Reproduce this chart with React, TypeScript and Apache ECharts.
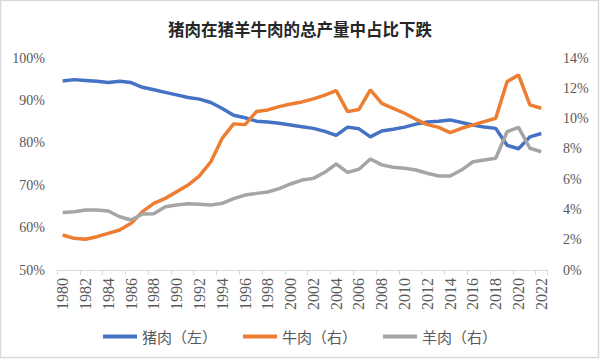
import React, { useEffect, useRef } from "react";
import * as echarts from "echarts";

const years: string[] = [
  "1980","1981","1982","1983","1984","1985","1986","1987","1988","1989",
  "1990","1991","1992","1993","1994","1995","1996","1997","1998","1999",
  "2000","2001","2002","2003","2004","2005","2006","2007","2008","2009",
  "2010","2011","2012","2013","2014","2015","2016","2017","2018","2019",
  "2020","2021","2022",
];

// 猪肉（左） share, %
const pork: number[] = [
  94.6, 94.9, 94.7, 94.5, 94.2, 94.5, 94.2, 93.1, 92.5, 91.9,
  91.3, 90.7, 90.3, 89.5, 88.1, 86.5, 85.9, 85.1, 84.9, 84.6,
  84.2, 83.8, 83.4, 82.7, 81.75, 83.7, 83.3, 81.4, 82.8, 83.2,
  83.7, 84.4, 84.9, 85.1, 85.4, 84.8, 84.2, 83.7, 83.4, 79.4,
  78.6, 81.4, 82.2,
];

// 牛肉（右） share, %
const beef: number[] = [
  2.31, 2.09, 2.03, 2.2, 2.42, 2.64, 3.08, 3.85, 4.4, 4.73,
  5.17, 5.61, 6.21, 7.15, 8.7, 9.65, 9.6, 10.46, 10.57, 10.79,
  10.96, 11.1, 11.3, 11.55, 11.84, 10.46, 10.6, 11.89, 11.0, 10.68,
  10.35, 9.95, 9.6, 9.42, 9.07, 9.36, 9.58, 9.8, 10.02, 12.44,
  12.88, 10.9, 10.68,
];

// 羊肉（右） share, %
const mutton: number[] = [
  3.79, 3.85, 3.96, 3.96, 3.9, 3.52, 3.3, 3.7, 3.72, 4.18,
  4.29, 4.38, 4.34, 4.29, 4.4, 4.71, 4.95, 5.06, 5.15, 5.37,
  5.68, 5.94, 6.05, 6.45, 7.0, 6.45, 6.65, 7.33, 6.94, 6.78,
  6.72, 6.6, 6.39, 6.21, 6.21, 6.6, 7.15, 7.27, 7.38, 9.13,
  9.42, 8.04, 7.81,
];

const seriesNames: string[] = ["猪肉（左）", "牛肉（右）", "羊肉（右）"];
const titleText = "猪肉在猪羊牛肉的总产量中占比下跌";

export default function App() {
  const ref = useRef<HTMLDivElement>(null);

  useEffect(() => {
    if (!ref.current) return;
    const chart = echarts.init(ref.current, undefined, { renderer: "svg" });
    const serif = "'Liberation Serif', 'Noto Sans CJK SC', serif";
    const labelColor = "#595959";
    const lineColor = "#d9d9d9";

    chart.setOption({
      animation: false,
      backgroundColor: "#ffffff",
      title: {
        text: titleText,
        left: "center",
        top: 16,
        textStyle: {
          fontFamily: "'Noto Sans CJK SC', sans-serif",
          fontSize: 16.5,
          fontWeight: "bold",
          color: "#262626",
        },
      },
      graphic: [
        {
          type: "rect",
          shape: { x: 0.5, y: 0.5, width: 598, height: 357 },
          style: { fill: "none", stroke: "#d9d9d9", lineWidth: 1.5 },
          silent: true,
          z: -1,
        },
      ],
      legend: {
        data: seriesNames,
        left: "center",
        top: 324,
        icon: "rect",
        itemWidth: 34,
        itemHeight: 4,
        itemGap: 26,
        textStyle: {
          fontFamily: "'Noto Sans CJK SC', serif",
          fontSize: 15,
          color: labelColor,
        },
      },
      grid: { left: 57, right: 53, top: 58, bottom: 90 },
      xAxis: {
        type: "category",
        data: years,
        boundaryGap: true,
        axisLine: { show: true, lineStyle: { color: lineColor, width: 1 } },
        axisTick: { show: true, interval: 1, length: 5, lineStyle: { color: lineColor } },
        axisLabel: {
          interval: 1,
          rotate: 90,
          margin: 8,
          fontFamily: serif,
          fontSize: 16,
          color: labelColor,
        },
        splitLine: { show: false },
      },
      yAxis: [
        {
          type: "value",
          min: 50,
          max: 100,
          interval: 10,
          axisLine: { show: false },
          axisTick: { show: false },
          splitLine: { show: false },
          axisLabel: {
            formatter: "{value}%",
            margin: 12,
            fontFamily: serif,
            fontSize: 14,
            color: labelColor,
          },
        },
        {
          type: "value",
          min: 0,
          max: 14,
          interval: 2,
          axisLine: { show: false },
          axisTick: { show: false },
          splitLine: { show: false },
          axisLabel: {
            formatter: "{value}%",
            margin: 16,
            fontFamily: serif,
            fontSize: 14,
            color: labelColor,
          },
        },
      ],
      series: [
        {
          name: seriesNames[0],
          type: "line",
          yAxisIndex: 0,
          data: pork,
          showSymbol: false,
          symbol: "none",
          lineStyle: { width: 3.5, color: "#4472C4" },
          itemStyle: { color: "#4472C4" },
        },
        {
          name: seriesNames[1],
          type: "line",
          yAxisIndex: 1,
          data: beef,
          showSymbol: false,
          symbol: "none",
          lineStyle: { width: 3.5, color: "#ED7D31" },
          itemStyle: { color: "#ED7D31" },
        },
        {
          name: seriesNames[2],
          type: "line",
          yAxisIndex: 1,
          data: mutton,
          showSymbol: false,
          symbol: "none",
          lineStyle: { width: 3.5, color: "#A5A5A5" },
          itemStyle: { color: "#A5A5A5" },
        },
      ],
    });

    return () => chart.dispose();
  }, []);

  return (
    <div
      ref={ref}
      style={{ position: "fixed", left: 0, top: 0, width: 600, height: 360 }}
    />
  );
}
